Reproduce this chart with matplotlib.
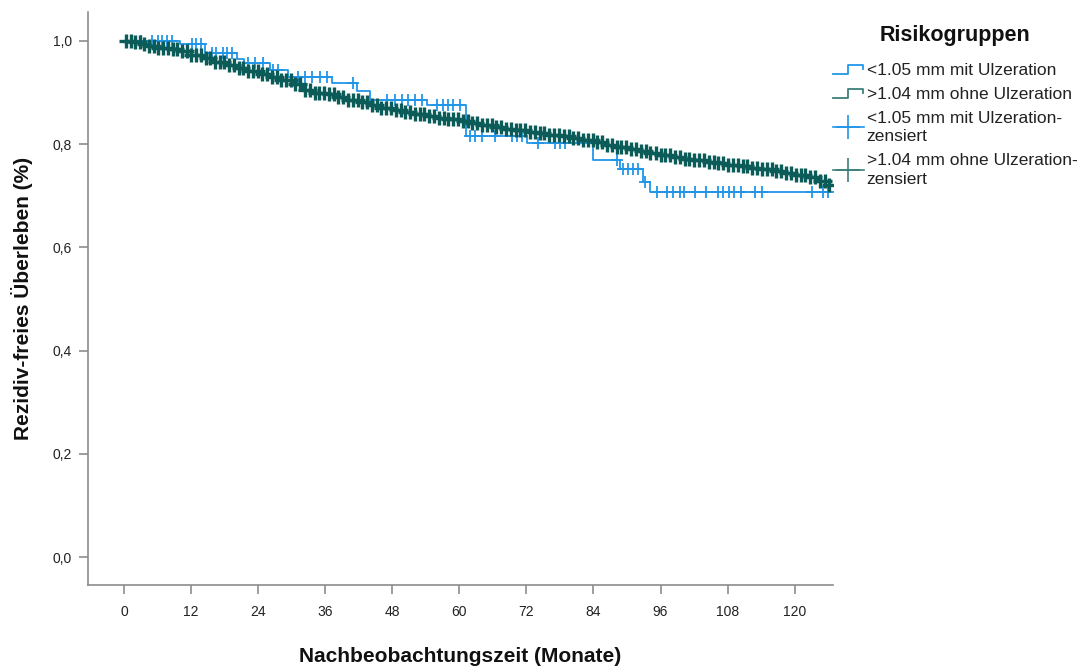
import numpy as np
import matplotlib
matplotlib.use("Agg")
import matplotlib.pyplot as plt
from matplotlib.lines import Line2D
from matplotlib.legend_handler import HandlerBase

plt.rcParams['font.family'] = ['Liberation Sans', 'DejaVu Sans']

# Kaplan-Meier Stufen (Zeit in Monaten, Überlebensanteil)
blau_t = [0, 10.0, 14.5, 20.2, 21.5, 26.1, 29.3, 37.2, 41.7, 44.0, 54.2,
          61.2, 72.1, 84.0, 88.7, 92.8, 94.1]
blau_s = [1.0, 0.994, 0.977, 0.965, 0.958, 0.944, 0.930, 0.919, 0.903, 0.886,
          0.876, 0.816, 0.803, 0.769, 0.752, 0.727, 0.708]
blau_ende = 126.0
blau_zensiert = [3.0, 5.0, 6.0, 6.8, 7.7, 8.6, 12.2, 12.9, 13.8, 15.7, 16.5,
                 17.7, 18.4, 19.3, 22.2, 23.4, 24.9, 26.7, 27.5, 31.1, 32.4,
                 33.6, 35.1, 36.3, 41.0, 47.0, 48.5, 49.7, 50.9, 52.1, 53.3,
                 56.0, 57.1, 58.0, 58.9, 60.1, 61.9, 62.8, 64.0, 66.4, 69.4,
                 70.3, 71.2, 74.0, 77.1, 78.0, 78.9, 88.2, 89.3, 90.2, 91.1,
                 91.9, 93.2, 95.3, 97.1, 98.2, 99.5, 100.2, 102.1, 104.1,
                 106.3, 107.2, 108.2, 109.1, 110.4, 112.9, 114.1, 123.1,
                 125.0, 125.9]

gruen_t = [0, 1.5, 3, 4.5, 6, 8, 10, 12, 14, 16, 18, 20, 22, 24, 26, 28, 30,
           32, 34, 36, 38, 40, 42, 44, 46, 48, 50, 52, 54, 56, 58, 60, 62, 64,
           66, 68, 70, 72, 74, 76, 78, 80, 82, 84, 86, 88, 90, 92, 94, 96, 98,
           100, 102, 104, 106, 108, 110, 112, 114, 116, 118, 120, 122, 124,
           125.5]
gruen_s = [1.0, 0.997, 0.994, 0.990, 0.987, 0.984, 0.980, 0.973, 0.966, 0.960,
           0.954, 0.948, 0.942, 0.936, 0.930, 0.924, 0.917, 0.905, 0.900,
           0.897, 0.892, 0.886, 0.881, 0.875, 0.870, 0.866, 0.862, 0.858,
           0.855, 0.851, 0.848, 0.845, 0.841, 0.837, 0.833, 0.830, 0.827,
           0.824, 0.821, 0.818, 0.815, 0.812, 0.808, 0.804, 0.799, 0.795,
           0.791, 0.787, 0.783, 0.779, 0.775, 0.772, 0.769, 0.766, 0.763,
           0.760, 0.757, 0.754, 0.751, 0.748, 0.745, 0.741, 0.736, 0.729,
           0.720]
gruen_ende = 126.3
gruen_zensiert = [
    0.3, 1.2, 2.0, 2.9, 3.6, 4.5, 5.3, 6.1, 7.0, 7.8, 8.7, 9.5, 10.4, 11.2,
    12.0, 12.9, 13.7, 14.6, 15.4, 16.3, 17.1, 17.9, 18.8, 19.6, 20.5, 21.3,
    22.2, 23.0, 23.9, 24.7, 25.6, 26.4, 27.3, 28.1, 29.0, 29.8, 30.6, 31.5,
    32.4, 33.2, 34.1, 34.9, 35.8, 36.6, 37.5, 38.3, 39.2, 40.0, 40.9, 41.8,
    42.6, 43.5, 44.3, 45.2, 46.0, 46.9, 47.7, 48.6, 49.5, 50.3, 51.2, 52.0,
    52.9, 53.7, 54.6, 55.5, 56.3, 57.2, 58.0, 58.9, 59.7, 60.6, 61.5, 62.3,
    63.2, 64.0, 64.9, 65.8, 66.6, 67.5, 68.3, 69.2, 70.1, 70.9, 71.8, 72.7,
    73.5, 74.4, 75.2, 76.1, 77.0, 77.8, 78.7, 79.6, 80.4, 81.3, 82.1, 83.0,
    83.9, 84.7, 85.6, 86.5, 87.3, 88.2, 89.0, 89.9, 90.8, 91.6, 92.5, 93.4,
    94.2, 95.1, 96.0, 96.8, 97.7, 98.5, 99.4, 100.3, 101.1, 102.0, 102.9,
    103.7, 104.6, 105.5, 106.3, 107.2, 108.1, 108.9, 109.8, 110.7, 111.5,
    112.4, 113.3, 114.1, 115.0, 115.9, 116.7, 117.6, 118.5, 119.3, 120.2,
    121.1, 121.9, 122.8, 123.6, 124.5, 125.4, 126.1]

x_ticks = [0, 12, 24, 36, 48, 60, 72, 84, 96, 108, 120]
y_ticks = [0.0, 0.2, 0.4, 0.6, 0.8, 1.0]

BLAU = '#2196e8'
GRUEN = '#0b5c59'


def stufe(t_list, s_list, t):
    i = np.searchsorted(t_list, t, side='right') - 1
    return np.asarray(s_list)[i]


class StufenHandler(HandlerBase):
    def create_artists(self, legend, orig_handle, xdescent, ydescent,
                       width, height, fontsize, trans):
        w, h = width, height
        xs = [-xdescent, 0.5 * w, 0.5 * w, 0.97 * w, 0.97 * w]
        ys = [0.1 * h, 0.1 * h, 0.85 * h, 0.85 * h, 0.5 * h]
        ln = Line2D(xs, ys, color=orig_handle.get_color(), lw=1.3,
                    transform=trans)
        return [ln]


fig = plt.figure(figsize=(10.8, 6.68), dpi=100)
ax = fig.add_axes([0.0815, 0.1243, 0.6895, 0.8577])

for t_list, s_list, ende, zens, farbe, lw, ms, mew in [
        (blau_t, blau_s, blau_ende, blau_zensiert, BLAU, 1.3, 9, 1.3),
        (gruen_t, gruen_s, gruen_ende, gruen_zensiert, GRUEN, 2.2, 9.5, 2.4)]:
    ax.step(list(t_list) + [ende], list(s_list) + [s_list[-1]], where='post',
            color=farbe, lw=lw, zorder=3)
    zens = np.asarray(zens)
    ax.plot(zens, stufe(t_list, s_list, zens), linestyle='none', marker='+',
            ms=ms, mew=mew, color=farbe, zorder=4)

ax.set_xlim(-6.44, 126.8)
ax.set_ylim(-0.054, 1.056)
ax.set_xticks(x_ticks)
ax.set_xticklabels([str(v) for v in x_ticks])
ax.set_yticks(y_ticks)
ax.set_yticklabels([f"{v:.1f}".replace('.', ',') for v in y_ticks])

for s in ['top', 'right']:
    ax.spines[s].set_visible(False)
for s in ['left', 'bottom']:
    ax.spines[s].set_color('#8c8c8c')
    ax.spines[s].set_linewidth(1.2)
ax.tick_params(axis='both', colors='#8c8c8c', labelcolor='#222222',
               length=6.5, width=1.2, labelsize=10, direction='out')
ax.tick_params(axis='x', pad=8)
ax.tick_params(axis='y', pad=5)

ax.set_xlabel('Nachbeobachtungszeit (Monate)', fontsize=15,
              fontweight='bold', labelpad=20, color='#111111')
ax.set_ylabel('Rezidiv-freies Überleben (%)', fontsize=15,
              fontweight='bold', labelpad=14, color='#111111')

fig.text(955 / 1080, 1 - 35 / 668, 'Risikogruppen', ha='center',
         va='center', fontsize=15.5, fontweight='bold', color='#111111')

h1 = Line2D([], [], color=BLAU)
h2 = Line2D([], [], color='#3d7f7b')
h3 = Line2D([], [], color=BLAU, marker='+', ms=17, mew=1.2, lw=1.2)
h4 = Line2D([], [], color='#3d7f7b', marker='+', ms=17, mew=1.2, lw=1.2)
leg = fig.legend([h1, h2, h3, h4],
                 ['<1.05 mm mit Ulzeration', '>1.04 mm ohne Ulzeration',
                  '<1.05 mm mit Ulzeration-\nzensiert',
                  '>1.04 mm ohne Ulzeration-\nzensiert'],
                 handler_map={h1: StufenHandler(), h2: StufenHandler()},
                 loc='upper left',
                 bbox_to_anchor=(0.771, 1 - 63 / 668), frameon=False,
                 fontsize=12.5, handlelength=1.8, handletextpad=0.15,
                 labelspacing=0.5, borderaxespad=0, borderpad=0)
for t in leg.get_texts():
    t.set_color('#222222')
    t.set_linespacing(1.3)

fig.savefig('out.png', dpi=100)
